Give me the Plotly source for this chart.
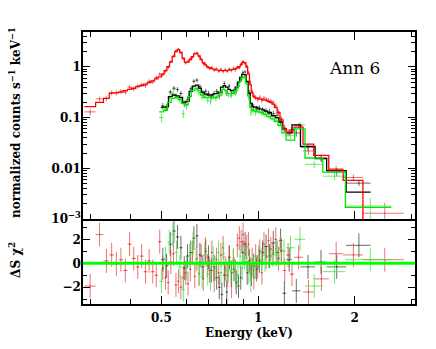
import math
import plotly.graph_objects as go

# ---------------- data ----------------
red_edges = [0.288, 0.312, 0.330, 0.344, 0.356, 0.368, 0.380, 0.392, 0.404, 0.416,
             0.428, 0.440, 0.452, 0.464, 0.476, 0.488, 0.500, 0.510, 0.520, 0.530,
             0.540, 0.550, 0.560, 0.570, 0.580, 0.590, 0.600, 0.610, 0.620, 0.630,
             0.640, 0.650, 0.660, 0.670, 0.680, 0.690, 0.700, 0.712, 0.724, 0.736,
             0.748, 0.760, 0.772, 0.784, 0.796, 0.808, 0.820, 0.832, 0.844, 0.856,
             0.868, 0.880, 0.892, 0.904, 0.916, 0.928, 0.940, 0.952, 0.964, 0.976,
             0.990, 1.004, 1.020, 1.035, 1.051, 1.068, 1.086, 1.105, 1.124, 1.146,
             1.170, 1.196, 1.224, 1.256, 1.294, 1.380, 1.490, 1.660, 1.840, 2.120,
             2.840]
red_rate = [0.13, 0.235, 0.24, 0.31, 0.31, 0.33, 0.32, 0.40, 0.37, 0.42,
            0.45, 0.43, 0.52, 0.51, 0.62, 0.72, 0.70, 0.83, 0.98, 1.28,
            1.65, 2.1, 2.25, 1.9, 1.45, 1.2, 1.3, 1.45, 1.55, 1.85,
            1.9, 1.6, 1.45, 1.18, 1.15, 1.0, 0.93, 0.98, 0.86, 0.92,
            0.82, 0.9, 0.81, 0.88, 0.82, 0.91, 0.85, 0.94, 0.88, 1.0,
            0.97, 1.15, 1.3, 1.18, 1.05, 0.78, 0.5, 0.33, 0.27, 0.25,
            0.23, 0.25, 0.22, 0.24, 0.23, 0.22, 0.21, 0.2, 0.17, 0.13,
            0.095, 0.062, 0.05, 0.058, 0.07, 0.022, 0.016, 0.0098, 0.0066, 0.0013]
red_err = [0.02, 0.025, 0.03, 0.035, 0.035, 0.035, 0.035, 0.04, 0.04, 0.04,
           0.045, 0.045, 0.05, 0.05, 0.055, 0.06, 0.06, 0.07, 0.08, 0.09,
           0.1, 0.12, 0.12, 0.12, 0.1, 0.09, 0.09, 0.1, 0.1, 0.11,
           0.11, 0.1, 0.1, 0.09, 0.08, 0.08, 0.07, 0.07, 0.07, 0.07,
           0.065, 0.065, 0.065, 0.065, 0.065, 0.065, 0.065, 0.07, 0.07, 0.07,
           0.07, 0.08, 0.08, 0.08, 0.075, 0.06, 0.045, 0.035, 0.03, 0.03,
           0.028, 0.028, 0.027, 0.027, 0.026, 0.025, 0.024, 0.023, 0.02, 0.016,
           0.012, 0.009, 0.008, 0.008, 0.008, 0.0035, 0.0025, 0.0015, 0.001, 0.0008]
red_model = [0.165, 0.2, 0.24, 0.30, 0.31, 0.32, 0.34, 0.36, 0.38, 0.41,
             0.43, 0.46, 0.49, 0.53, 0.58, 0.64, 0.72, 0.85, 1.02, 1.25,
             1.6, 2.0, 2.2, 1.95, 1.5, 1.25, 1.25, 1.4, 1.6, 1.8,
             1.85, 1.65, 1.4, 1.22, 1.1, 1.02, 0.97, 0.93, 0.9, 0.88,
             0.86, 0.85, 0.84, 0.85, 0.86, 0.87, 0.88, 0.9, 0.92, 0.96,
             1.02, 1.12, 1.24, 1.22, 1.0, 0.72, 0.45, 0.31, 0.26, 0.245,
             0.24, 0.235, 0.23, 0.225, 0.22, 0.21, 0.2, 0.185, 0.16, 0.125,
             0.09, 0.06, 0.05, 0.055, 0.065, 0.03, 0.018, 0.0093, 0.0058, 0.0009]
red_resid = [-1.9, 2.4, 0.2, 0.7, -0.05, 0.3, -0.6, 1.6, 0.4, -0.3,
             0.6, -0.7, 0.2, -0.7, -1.0, 1.8, -0.4, -1.2, -1.6, 0.1,
             0.8, -1.8, -1.5, -2.0, -1.2, -0.8, -1.7, -0.5, 0.9, -1.1,
             0.4, -0.9, 0.6, -1.3, 1.2, -0.2, -0.6, 0.9, -1.4, 0.3,
             -0.8, 0.7, 1.3, -0.4, -1.0, 0.5, -1.9, 0.2, -0.7, 1.5,
             2.1, 1.8, 2.4, 0.8, 1.4, 1.6, -0.5, 0.3, -1.2, 0.6,
             -0.3, 1.0, -0.8, 1.6, 0.5, 1.9, 1.2, 0.8, 2.0, 0.4,
             1.1, -0.6, 0.7, -0.9, 0.5, -2.4, -1.3, 0.8, 0.7, 0.3]

black_edges = [0.498, 0.512, 0.526, 0.540, 0.554, 0.568, 0.582, 0.596, 0.610, 0.624,
               0.638, 0.652, 0.666, 0.680, 0.694, 0.708, 0.722, 0.736, 0.750, 0.764,
               0.778, 0.792, 0.806, 0.820, 0.834, 0.848, 0.862, 0.876, 0.890, 0.904,
               0.918, 0.932, 0.946, 0.960, 0.978, 0.998, 1.020, 1.045, 1.072, 1.100,
               1.130, 1.160, 1.190, 1.225, 1.275, 1.355, 1.505, 1.635, 1.880, 2.240]
black_rate = [0.17, 0.16, 0.32, 0.38, 0.36, 0.3, 0.19, 0.23, 0.37, 0.52,
              0.55, 0.41, 0.31, 0.33, 0.3, 0.26, 0.3, 0.33, 0.27, 0.31,
              0.47, 0.31, 0.42, 0.3, 0.33, 0.34, 0.42, 0.56, 0.78, 0.8,
              0.48, 0.31, 0.17, 0.16, 0.15, 0.155, 0.14, 0.135, 0.13, 0.12,
              0.11, 0.085, 0.062, 0.052, 0.05, 0.026, 0.016, 0.0085, 0.0051]
black_err = [0.025, 0.025, 0.035, 0.04, 0.04, 0.035, 0.03, 0.03, 0.04, 0.05,
             0.05, 0.045, 0.04, 0.04, 0.04, 0.035, 0.04, 0.04, 0.04, 0.045,
             0.05, 0.045, 0.045, 0.04, 0.04, 0.04, 0.045, 0.055, 0.065, 0.065,
             0.05, 0.04, 0.025, 0.024, 0.022, 0.022, 0.02, 0.02, 0.019, 0.017,
             0.016, 0.013, 0.01, 0.008, 0.008, 0.004, 0.0025, 0.0014, 0.0006]
black_model = [0.16, 0.165, 0.26, 0.28, 0.27, 0.25, 0.2, 0.21, 0.33, 0.42,
               0.44, 0.38, 0.32, 0.29, 0.28, 0.28, 0.29, 0.3, 0.32, 0.4,
               0.43, 0.4, 0.36, 0.34, 0.35, 0.4, 0.5, 0.62, 0.72, 0.7,
               0.52, 0.3, 0.19, 0.165, 0.16, 0.15, 0.145, 0.135, 0.125, 0.11,
               0.1, 0.082, 0.06, 0.05, 0.072, 0.027, 0.0155, 0.009, 0.0034]
black_resid = [0.3, -0.2, 1.6, 2.7, 2.2, 1.3, -0.4, 0.6, 0.9, 2.1,
               2.3, 0.7, -0.3, 1.0, 0.5, -0.6, -0.3, -1.2, -2.0, -2.6,
               -1.0, -2.4, 0.5, -0.8, -0.5, -1.6, -1.9, -1.2, 0.9, 1.6,
               -0.8, 0.2, -0.9, -0.2, -0.5, 0.2, 0.9, 1.4, 0.6, 1.7,
               0.9, 1.9, -2.5, 0.3, -2.3, -0.3, 0.1, -0.3, 1.5]

green_edges = [0.492, 0.508, 0.522, 0.536, 0.550, 0.564, 0.578, 0.592, 0.606, 0.620,
               0.634, 0.648, 0.662, 0.676, 0.690, 0.704, 0.718, 0.732, 0.746, 0.760,
               0.774, 0.788, 0.802, 0.816, 0.830, 0.844, 0.858, 0.872, 0.886, 0.900,
               0.914, 0.928, 0.942, 0.956, 0.972, 0.992, 1.014, 1.038, 1.064, 1.092,
               1.122, 1.154, 1.186, 1.222, 1.300, 1.400, 1.590, 1.870, 2.600]
green_rate = [0.1, 0.15, 0.25, 0.3, 0.27, 0.22, 0.12, 0.17, 0.28, 0.4,
              0.38, 0.31, 0.25, 0.27, 0.22, 0.21, 0.26, 0.24, 0.3, 0.3,
              0.39, 0.32, 0.28, 0.27, 0.31, 0.3, 0.38, 0.55, 0.6, 0.66,
              0.5, 0.25, 0.13, 0.135, 0.13, 0.14, 0.13, 0.12, 0.115, 0.105,
              0.095, 0.085, 0.06, 0.045, 0.072, 0.012, 0.007, 0.0018]
green_err = [0.02, 0.022, 0.03, 0.035, 0.033, 0.03, 0.022, 0.026, 0.034, 0.04,
             0.04, 0.036, 0.032, 0.034, 0.03, 0.03, 0.033, 0.032, 0.035, 0.035,
             0.04, 0.037, 0.034, 0.033, 0.036, 0.035, 0.04, 0.05, 0.055, 0.058,
             0.05, 0.032, 0.022, 0.022, 0.021, 0.021, 0.02, 0.019, 0.018, 0.016,
             0.015, 0.013, 0.01, 0.007, 0.009, 0.002, 0.0012, 0.0008]
green_model = [0.13, 0.14, 0.2, 0.24, 0.25, 0.23, 0.19, 0.18, 0.26, 0.34,
               0.37, 0.34, 0.28, 0.25, 0.245, 0.245, 0.25, 0.25, 0.27, 0.33,
               0.36, 0.34, 0.3, 0.29, 0.3, 0.34, 0.42, 0.52, 0.62, 0.63,
               0.48, 0.27, 0.16, 0.14, 0.135, 0.13, 0.125, 0.115, 0.105, 0.095,
               0.085, 0.07, 0.05, 0.036, 0.06, 0.016, 0.0084, 0.0017]
green_resid = [-1.5, 0.4, 1.8, 2.4, 0.9, -0.3, -2.2, -0.4, 0.7, 1.6,
               0.3, -0.8, -1.1, 0.7, -0.9, -1.3, 0.4, -0.4, 0.9, -0.8,
               0.8, -0.6, -0.6, -0.7, 0.3, -1.2, -1.0, 0.6, -0.4, 0.5,
               0.4, -0.7, -1.4, -0.2, -0.3, 0.5, 0.3, 0.3, 0.6, 0.7,
               0.7, 1.2, 1.0, 1.3, 2.0, -1.9, -0.7, 0.3]

x_major = [0.5, 1, 2]
x_major_text = ["0.5", "1", "2"]
x_minor = [0.3, 0.4, 0.6, 0.7, 0.8, 0.9, 3]
y_major = [0.001, 0.01, 0.1, 1]
y_major_text = ["10<sup>\u22123</sup>", "0.01", "0.1", "1"]
r_major = [-2, 0, 2]
r_minor = [-3, -1, 1, 3]

datasets = [
    ("black", black_edges, black_rate, black_err, black_model, black_resid,
     "rgba(60,60,60,0.75)", "#000000"),
    ("red", red_edges, red_rate, red_err, red_model, red_resid,
     "rgba(225,40,40,0.65)", "#ff0000"),
    ("green", green_edges, green_rate, green_err, green_model, green_resid,
     "rgba(70,230,70,0.8)", "#00e600"),
]
for d in datasets:
    assert len(d[1]) - 1 == len(d[2]) == len(d[3]) == len(d[4]) == len(d[5]), d[0]

# ---------------- figure ----------------
fig = go.Figure()

def mid(e):
    return [(a + b) / 2 for a, b in zip(e[:-1], e[1:])]

def half(e):
    return [(b - a) / 2 for a, b in zip(e[:-1], e[1:])]

def steps(e, m):
    xs, ys = [], []
    for i, v in enumerate(m):
        xs += [e[i], e[i + 1]]
        ys += [v, v]
    return xs, ys

for name, e, r, er, m, res, cdat, cmod in datasets:
    fig.add_trace(go.Scatter(
        x=mid(e), y=r, mode="markers", xaxis="x2", yaxis="y2",
        marker=dict(size=1.5, color=cdat),
        error_x=dict(type="data", array=half(e), width=0, thickness=1, color=cdat),
        error_y=dict(type="data", array=er, width=0, thickness=1, color=cdat),
        showlegend=False, hoverinfo="skip"))
    fig.add_trace(go.Scatter(
        x=mid(e), y=res, mode="markers", xaxis="x", yaxis="y",
        marker=dict(size=1.5, color=cdat),
        error_x=dict(type="data", array=half(e), width=0, thickness=1, color=cdat),
        error_y=dict(type="constant", value=1, width=0, thickness=1, color=cdat),
        showlegend=False, hoverinfo="skip"))

for name, e, r, er, m, res, cdat, cmod in datasets:
    xs, ys = steps(e, m)
    fig.add_trace(go.Scatter(
        x=xs, y=ys, mode="lines", xaxis="x2", yaxis="y2",
        line=dict(color=cmod, width=1.3), showlegend=False, hoverinfo="skip"))

FONT = "DejaVu Serif"
tickfont = dict(family=FONT, size=12, color="black", weight="bold")
split = 0.3125
xr = [math.log10(0.285), math.log10(3.08)]

common_x = dict(type="log", range=xr, tickmode="array", tickvals=x_major,
                ticktext=x_major_text, ticks="inside", ticklen=8, tickwidth=1.2,
                tickcolor="black", showline=True,
                linecolor="black", linewidth=1.5, showgrid=False, zeroline=False,
                minor=dict(tickmode="array", tickvals=x_minor, ticks="inside",
                           ticklen=5, tickwidth=1.2, tickcolor="black", showgrid=False),
                tickfont=tickfont, ticklabelstandoff=2)

# the page body adds an 8 px offset, so the figure is sized to fit the window
fig.update_layout(
    width=420, height=333,
    margin=dict(l=75, r=13, t=24, b=37),
    paper_bgcolor="white", plot_bgcolor="white",
    xaxis=dict(common_x, anchor="y", domain=[0, 1], mirror=False),
    xaxis2=dict(common_x, anchor="y2", domain=[0, 1], matches="x",
                mirror="allticks", showticklabels=False),
    yaxis=dict(domain=[0, split], range=[-3.4, 3.7], tickmode="array",
               tickvals=r_major, ticks="inside", ticklen=7, tickwidth=1.2,
               tickcolor="black", mirror="allticks", showline=True,
               linecolor="black", linewidth=1.5, showgrid=False, zeroline=False,
               minor=dict(tickmode="array", tickvals=r_minor, ticks="inside",
                          ticklen=4, tickwidth=1.2, tickcolor="black", showgrid=False),
               tickfont=tickfont, anchor="x", ticklabelstandoff=-2),
    yaxis2=dict(domain=[split, 1], type="log", range=[-3, math.log10(4.9)],
                tickmode="array", tickvals=y_major, ticktext=y_major_text,
                ticks="inside", ticklen=7, tickwidth=1.2, tickcolor="black",
                mirror="allticks", showline=True, linecolor="black", linewidth=1.5,
                showgrid=False, zeroline=False,
                minor=dict(ticks="inside", ticklen=4, tickwidth=1, tickcolor="black",
                           dtick="D1", showgrid=False),
                tickfont=tickfont, anchor="x2", ticklabelstandoff=-2),
    shapes=[dict(type="line", xref="x domain", yref="y", x0=0, x1=1, y0=0, y1=0,
                 line=dict(color="#00ff00", width=3))],
    annotations=[
        dict(text="Ann 6", x=0.819, y=0.868, xref="paper", yref="paper",
             xanchor="center", yanchor="middle",
             showarrow=False, font=dict(family=FONT, size=17, color="black")),
        dict(text="normalized counts s<sup>\u22121</sup> keV<sup>\u22121</sup>",
             x=-0.205, y=0.669, xref="paper", yref="paper", textangle=-90,
             xanchor="center", yanchor="middle",
             showarrow=False, font=dict(family=FONT, size=12, color="black", weight="bold")),
        dict(text="\u0394S \u03c7<sup>2</sup>", x=-0.205, y=0.162, xref="paper",
             yref="paper", textangle=-90, xanchor="center", yanchor="middle",
             showarrow=False,
             font=dict(family=FONT, size=12, color="black", weight="bold")),
        dict(text="Energy (keV)", x=0.5, y=-0.108, xref="paper", yref="paper",
             xanchor="center", yanchor="middle",
             showarrow=False, font=dict(family=FONT, size=12, color="black", weight="bold")),
    ],
)

fig.write_html("out.html")
